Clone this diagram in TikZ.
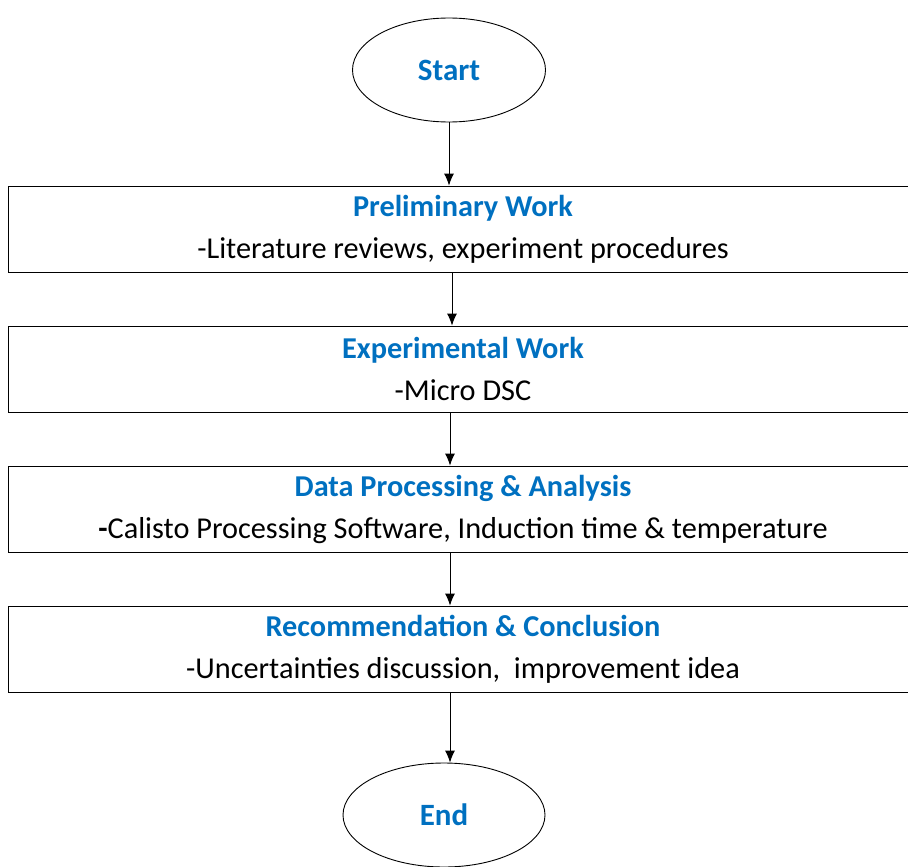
\documentclass[tikz,border=0pt]{standalone}
\usepackage{fontspec}
\setmainfont{Carlito}
\usepackage{tikz}
\usetikzlibrary{arrows.meta,shapes.geometric,positioning}
\definecolor{headblue}{HTML}{0070C0}

\tikzset{
	stage/.style={draw, line width=0.9pt, minimum width=910pt, minimum height=86pt, align=center, inner sep=0pt, font=\fontsize{30.3}{42}\selectfont},
	term/.style={draw, ellipse, line width=0.9pt, inner sep=0pt, text=headblue, font=\fontsize{31}{36}\selectfont\bfseries},
	flow/.style={-{Latex[length=12pt,width=10pt]}, line width=0.9pt}
}
\newcommand{\head}[1]{{\color{headblue}\bfseries #1}}

\begin{document}
\begin{tikzpicture}[x=1pt,y=-1pt]
		\clip (0,0) rectangle (908,867);
		\node[term, minimum width=193pt, minimum height=104pt] (start) at (449,70) {Start};
		\node[stage] (prelim) at (463,229) {\head{Preliminary Work}\\-Literature reviews, experiment procedures};
		\node[stage] (expt) at (463,369) {\head{Experimental Work}\\-Micro DSC};
		\node[stage] (data) at (463,509) {\head{Data Processing \& Analysis}\\\textbf{-}Calisto Processing Software, Induction time \& temperature};
		\node[stage] (concl) at (463,649) {\head{Recommendation \& Conclusion}\\-Uncertainties discussion,~ improvement idea};
		\node[term, minimum width=202pt, minimum height=104pt] (end) at (444,815) {End};
		\draw[flow] (start.south) -- (start.south |- prelim.north);
		\draw[flow] ([xshift=3pt]start.south |- prelim.south) -- ([xshift=3pt]start.south |- expt.north);
		\draw[flow] ([xshift=1pt]start.south |- expt.south) -- ([xshift=1pt]start.south |- data.north);
		\draw[flow] ([xshift=1pt]start.south |- data.south) -- ([xshift=1pt]start.south |- concl.north);
		\draw[flow] ([xshift=1pt]start.south |- concl.south) -- ([xshift=1pt]start.south |- end.north);
\end{tikzpicture}
\end{document}
